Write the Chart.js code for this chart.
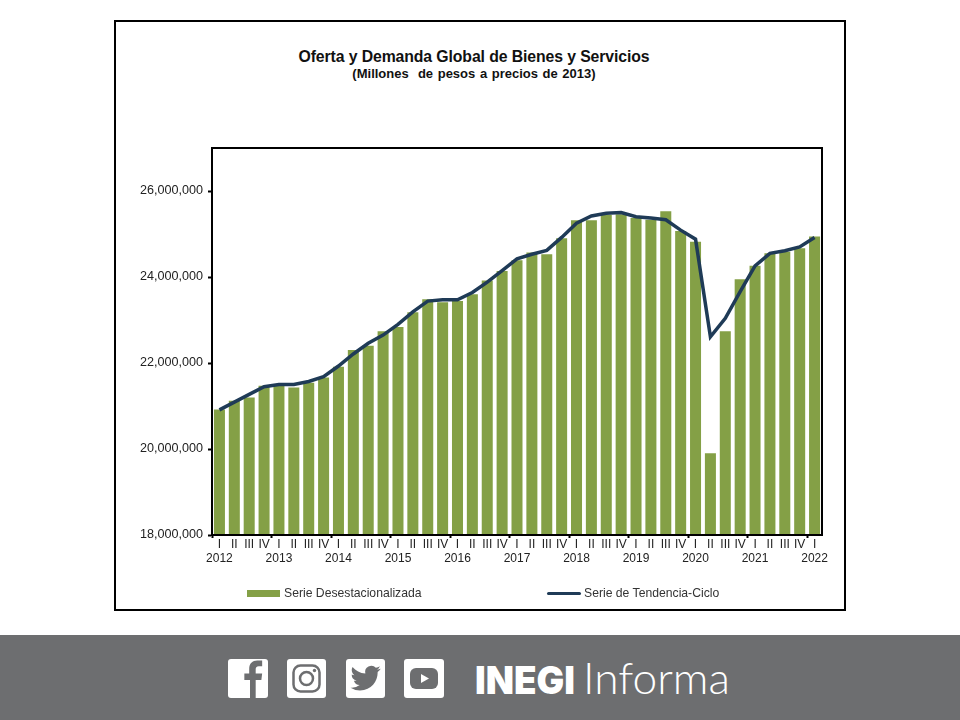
<!DOCTYPE html>
<html lang="es">
<head>
    <meta charset="UTF-8">
    <title>Oferta y Demanda Global de Bienes y Servicios</title>
    <script src="https://cdn.jsdelivr.net/npm/chart.js@4"></script>
    <style>
        html, body { margin: 0; padding: 0; background: #fff; }
        body { position: relative; width: 960px; height: 720px; overflow: hidden; font-family: "Liberation Sans", Arial, sans-serif; color: #1a1a1a; }
        .frame { position: absolute; left: 114px; top: 20px; width: 728px; height: 587px; border: 2px solid #000; }
        .wrap { position: absolute; left: 0; top: 0; width: 960px; height: 720px; }
        .title, .subtitle { position: absolute; left: 114px; width: 720px; text-align: center; font-weight: bold; color: #111; white-space: nowrap; }
        .title { top: 48px; font-size: 15.8px; letter-spacing: -0.1px; }
        .subtitle { top: 66px; font-size: 13px; word-spacing: 1px; }
        .swatch { position: absolute; }
        .legend-text { position: absolute; top: 586px; font-size: 12.2px; color: #333; white-space: nowrap; }
        .footer { position: absolute; left: 0; top: 635px; width: 960px; height: 85px; background: #6d6e70; }
        .footer svg { position: absolute; left: 0; top: 0; }
    </style>
</head>
<body>
<div class="frame"></div>
<div class="title">Oferta y Demanda Global de Bienes y Servicios</div>
<div class="subtitle">(Millones&nbsp; de pesos a precios de 2013)</div>

<div class="wrap"><canvas id="chart" width="960" height="720"></canvas></div>

<div class="swatch" style="left:247px;top:590px;width:33px;height:7px;background:#84a046"></div>
<div class="legend-text" id="legendBar" style="left:284px"></div>
<div class="swatch" style="left:547px;top:592px;width:34px;height:3px;background:#1f3b57;border-radius:2px"></div>
<div class="legend-text" id="legendLine" style="left:584px"></div>

<div class="footer">
    <svg width="960" height="85" viewBox="0 0 960 85">
        <!-- facebook -->
        <rect x="228" y="24" width="40" height="39" rx="3" fill="#fff"/>
        <path transform="translate(233,24) scale(1.62)" fill="#6d6e70" d="M14 24V13h3.5l.5-4h-4V6.5c0-1.2.4-2 2-2h2V1c-.5 0-1.7-.1-3-.1-3 0-5 1.8-5 5.2V9H7v4h3.5v11z"/>
        <!-- instagram -->
        <rect x="287" y="24" width="39" height="39" rx="3" fill="#fff"/>
        <rect x="293.500" y="30.500" width="26" height="26" rx="7" fill="none" stroke="#6d6e70" stroke-width="2.500"/>
        <circle cx="306.500" cy="43.500" r="6.500" fill="none" stroke="#6d6e70" stroke-width="2.500"/>
        <circle cx="314.500" cy="35.500" r="1.700" fill="#6d6e70"/>
        <!-- twitter -->
        <rect x="346" y="24" width="39" height="39" rx="3" fill="#fff"/>
        <path transform="translate(350.500,28) scale(1.26)" fill="#6d6e70" d="M23.953 4.57a10 10 0 01-2.825.775 4.958 4.958 0 002.163-2.723c-.951.555-2.005.959-3.127 1.184a4.92 4.92 0 00-8.384 4.482C7.69 8.095 4.067 6.13 1.64 3.162a4.822 4.822 0 00-.666 2.475c0 1.71.87 3.213 2.188 4.096a4.904 4.904 0 01-2.228-.616v.06a4.923 4.923 0 003.946 4.827 4.996 4.996 0 01-2.212.085 4.936 4.936 0 004.604 3.417 9.867 9.867 0 01-6.102 2.105c-.39 0-.779-.023-1.17-.067a13.995 13.995 0 007.557 2.209c9.053 0 13.998-7.496 13.998-13.985 0-.21 0-.42-.015-.63A9.935 9.935 0 0024 4.59z"/>
        <!-- youtube -->
        <rect x="404" y="24" width="40" height="39" rx="3" fill="#fff"/>
        <rect x="410" y="33" width="28" height="21" rx="6" fill="#6d6e70"/>
        <path d="M421 39 L429 43.500 L421 48 Z" fill="#fff"/>
        <!-- logo -->
        <text x="475" y="59" fill="#fff" font-family="Inter, Roboto, sans-serif" font-weight="900" font-size="38" textLength="100" lengthAdjust="spacingAndGlyphs">INEGI</text>
        <text x="583" y="59" fill="#fff" font-family="Lato, sans-serif" font-weight="300" font-size="44" textLength="147" lengthAdjust="spacingAndGlyphs">Informa</text>
    </svg>
</div>

<script>
    // Quarter labels, the year sits on the second line under each "I"
    const categories = [
        ['I', '2012'], 'II', 'III', 'IV',
        ['I', '2013'], 'II', 'III', 'IV',
        ['I', '2014'], 'II', 'III', 'IV',
        ['I', '2015'], 'II', 'III', 'IV',
        ['I', '2016'], 'II', 'III', 'IV',
        ['I', '2017'], 'II', 'III', 'IV',
        ['I', '2018'], 'II', 'III', 'IV',
        ['I', '2019'], 'II', 'III', 'IV',
        ['I', '2020'], 'II', 'III', 'IV',
        ['I', '2021'], 'II', 'III', 'IV',
        ['I', '2022']
    ];

    // Serie Desestacionalizada
    const seasonal = [
        20920000, 21120000, 21200000, 21470000,
        21490000, 21430000, 21540000, 21660000,
        21910000, 22300000, 22400000, 22740000,
        22840000, 23180000, 23480000, 23410000,
        23440000, 23600000, 23920000, 24140000,
        24390000, 24570000, 24530000, 24900000,
        25320000, 25320000, 25440000, 25460000,
        25370000, 25330000, 25530000, 25070000,
        24820000, 19900000, 22740000, 23950000,
        24260000, 24550000, 24590000, 24670000,
        24940000
    ];

    // Serie de Tendencia-Ciclo
    const trend = [
        20910000, 21090000, 21270000, 21450000,
        21500000, 21500000, 21570000, 21680000,
        21930000, 22210000, 22460000, 22650000,
        22900000, 23190000, 23440000, 23470000,
        23470000, 23640000, 23880000, 24150000,
        24420000, 24530000, 24620000, 24920000,
        25250000, 25420000, 25480000, 25500000,
        25400000, 25370000, 25330000, 25090000,
        24880000, 22610000, 23040000, 23660000,
        24260000, 24550000, 24610000, 24700000,
        24920000
    ];

    const yTicks = [18000000, 20000000, 22000000, 24000000, 26000000];

    const seasonalLabel = 'Serie Desestacionalizada';
    const trendLabel = 'Serie de Tendencia-Ciclo';

    document.getElementById('legendBar').textContent = seasonalLabel;
    document.getElementById('legendLine').textContent = trendLabel;

    // Black box around the plot area
    const plotBorder = {
        id: 'plotBorder',
        afterDraw(chart) {
            const { ctx, chartArea: a } = chart;
            ctx.save();
            ctx.strokeStyle = '#000';
            ctx.lineWidth = 2;
            ctx.strokeRect(a.left, a.top, a.right - a.left, a.bottom - a.top);
            ctx.restore();
        }
    };

    new Chart(document.getElementById('chart'), {
        data: {
            labels: categories,
            datasets: [
                {
                    type: 'line',
                    label: trendLabel,
                    data: trend,
                    borderColor: '#1f3b57',
                    borderWidth: 3.5,
                    pointRadius: 0,
                    tension: 0,
                    order: 1
                },
                {
                    type: 'bar',
                    label: seasonalLabel,
                    data: seasonal,
                    backgroundColor: '#84a046',
                    barPercentage: 0.74,
                    categoryPercentage: 1,
                    order: 2
                }
            ]
        },
        options: {
            responsive: false,
            animation: false,
            layout: { padding: { left: 0, top: 148, right: 138, bottom: 0 } },
            plugins: {
                legend: { display: false },
                title: { display: false },
                tooltip: { enabled: false }
            },
            scales: {
                x: {
                    afterFit(scale) { scale.height = 185; },
                    border: { color: '#000', width: 2 },
                    grid: {
                        drawOnChartArea: false,
                        tickLength: 3,
                        tickWidth: 2,
                        tickColor: (ctx) => (ctx.index % 4 === 0 ? '#000' : 'rgba(0,0,0,0)')
                    },
                    ticks: {
                        autoSkip: false,
                        maxRotation: 0,
                        minRotation: 0,
                        padding: -1,
                        color: '#222',
                        font: { family: '"Liberation Sans", Arial, sans-serif', size: 12 }
                    }
                },
                y: {
                    min: 18000000,
                    max: 27000000,
                    afterFit(scale) { scale.width = 212; },
                    afterBuildTicks(scale) { scale.ticks = yTicks.map((value) => ({ value })); },
                    border: { color: '#000', width: 2 },
                    grid: { drawOnChartArea: false, tickLength: 4, tickWidth: 2, tickColor: '#000' },
                    ticks: {
                        padding: 5,
                        color: '#222',
                        font: { family: '"Liberation Sans", Arial, sans-serif', size: 12.6 },
                        callback: (value) => value.toLocaleString('en-US')
                    }
                }
            }
        },
        plugins: [plotBorder]
    });
</script>
</body>
</html>
